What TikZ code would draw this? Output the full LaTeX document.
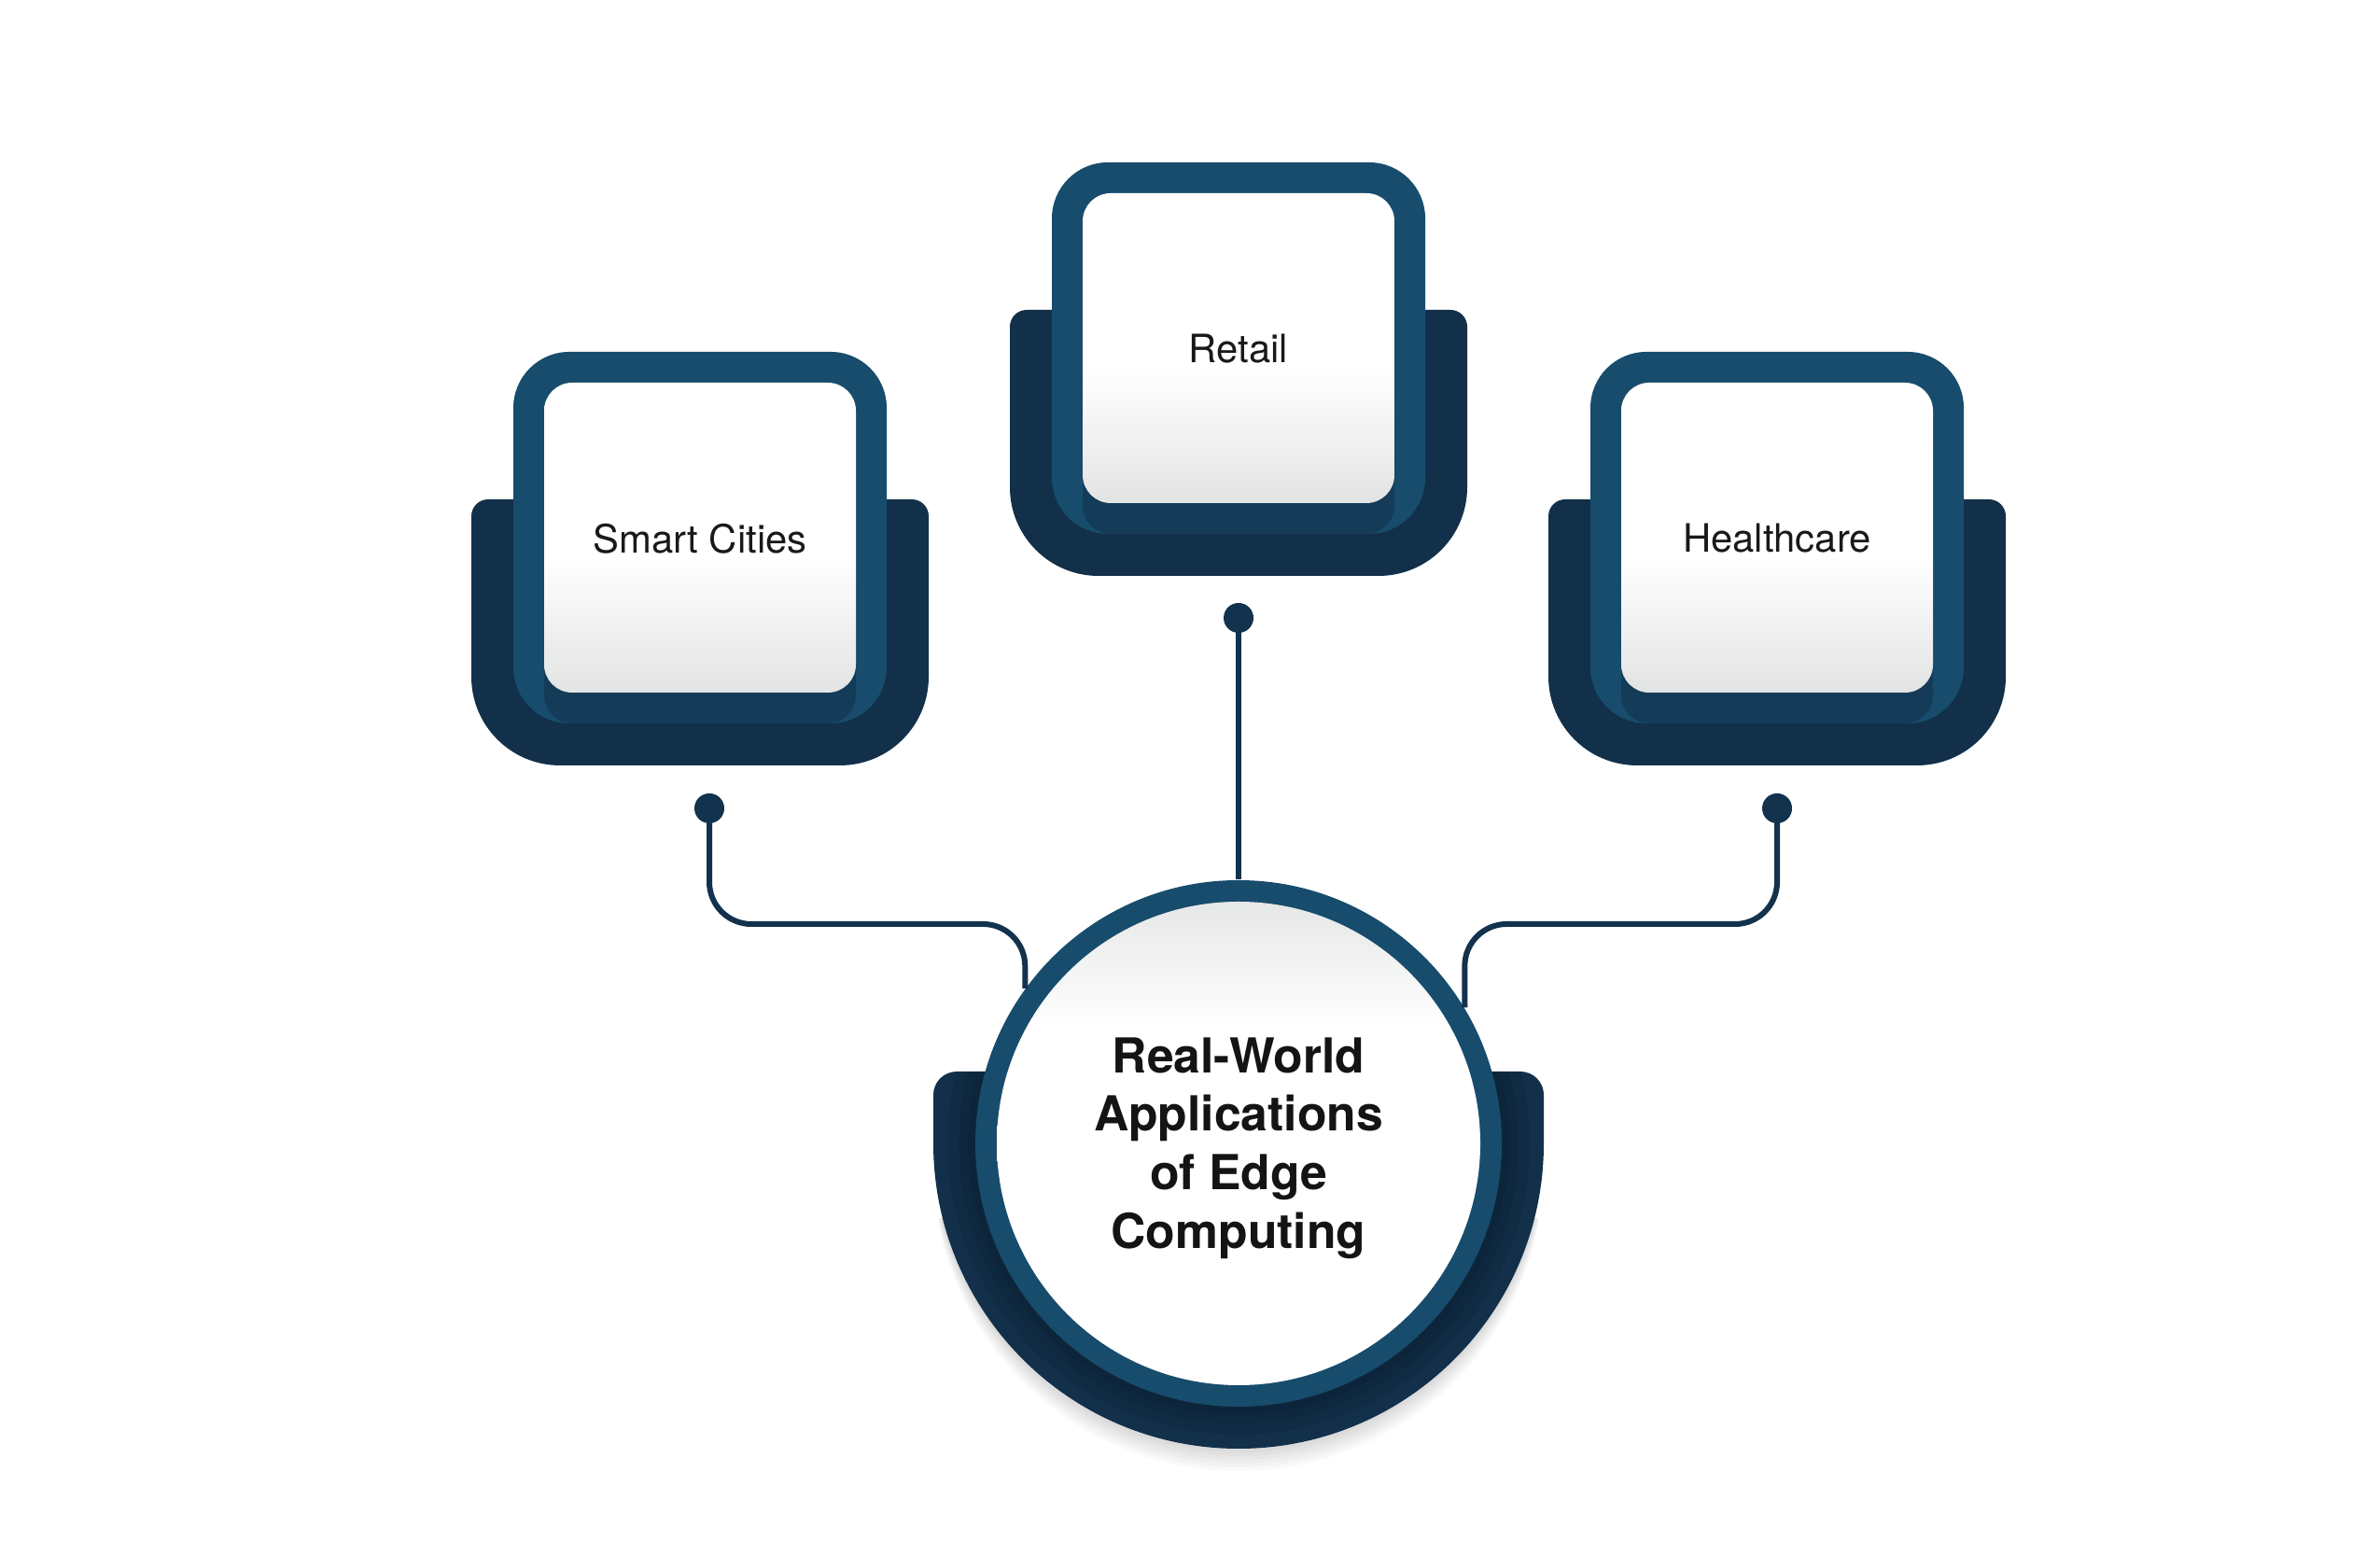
\documentclass[tikz,border=0pt]{standalone}
\usepackage{fontspec}
\setmainfont{TeX Gyre Heros}
\usetikzlibrary{calc}
\definecolor{frameblue}{HTML}{174C6C}
\definecolor{navy}{HTML}{12304A}
\definecolor{wirec}{HTML}{12324D}
\definecolor{paleg}{HTML}{E2E3E3}
\definecolor{midg}{HTML}{F3F3F3}
\definecolor{topg}{HTML}{E6E7E7}
\pgfdeclareverticalshading{cardfill}{100bp}{color(0bp)=(paleg); color(25bp)=(paleg); color(37bp)=(midg); color(47bp)=(white); color(100bp)=(white)}
\pgfdeclareverticalshading{discfill}{100bp}{color(0bp)=(white); color(45bp)=(white); color(62bp)=(white); color(75bp)=(topg); color(100bp)=(topg)}

\tikzset{
  backshape/.style={fill=navy},
  frameshape/.style={fill=frameblue, rounded corners=0.6cm},
  cardshape/.style={rounded corners=0.3cm, shading=cardfill},
  cardlabel/.style={font=\fontsize{11.9}{14}\selectfont, text=black!90, inner sep=0pt},
  hublabel/.style={font=\bfseries\fontsize{14.7}{17.8}\selectfont, align=center, text=black!92, inner sep=0pt},
  wire/.style={draw=wirec, line width=0.06cm},
  pin/.style={circle, fill=wirec, minimum size=0.32cm, inner sep=0pt},
  ringnode/.style={circle, fill=frameblue, minimum size=5.64cm, inner sep=0pt},
}

\newcommand\appcard[4]{%
 \begin{scope}[shift={(#2,#3)}]
  \fill[backshape] (-2.45,-1.76) arc[start angle=180,end angle=90,radius=0.18]
     -- (2.27,-1.58) arc[start angle=90,end angle=0,radius=0.18]
     -- (2.45,-3.48) arc[start angle=0,end angle=-90,radius=0.95]
     -- (-1.50,-4.43) arc[start angle=270,end angle=180,radius=0.95] -- cycle;
  \fill[frameshape] (-2,0) rectangle (2,-3.98);
  \begin{scope}
    \clip[rounded corners=0.6cm] (-2,0) rectangle (2,-3.98);
    \fill[navy, opacity=0.55, rounded corners=0.3cm] (-1.67,-0.66) rectangle (1.67,-3.98);
  \end{scope}
  \shade[cardshape] (-1.67,-0.33) rectangle (1.67,-3.65);
  \node[cardlabel] (#1) at (0,-2.0) {#4};
 \end{scope}}

\begin{document}
\begin{tikzpicture}
\useasboundingbox (0,0) rectangle (25.5,16.66);
\fill[white] (0,0) rectangle (25.5,16.66);

% cards
\appcard{smart}{7.50}{12.89}{Smart Cities}
\appcard{retail}{13.27}{14.92}{Retail}
\appcard{health}{19.04}{12.89}{Healthcare}

% hub shadow (below only)
\begin{scope}
  \clip (9.5,0) rectangle (17.0,3.6);
  \foreach \i in {1,...,6}
    \fill[black, opacity=0.022] (13.27,{4.41-0.04*\i}) circle[radius=3.27];
\end{scope}

% hub back shape
\fill[navy] (10.00,4.41) -- (10.00,4.93) arc[start angle=180,end angle=90,radius=0.25]
  -- (16.29,5.18) arc[start angle=90,end angle=0,radius=0.25]
  -- (16.54,4.41) arc[start angle=0,end angle=-180,radius=3.27] -- cycle;
\begin{scope}
  \clip (10.00,4.41) -- (10.00,5.18) -- (16.54,5.18) -- (16.54,4.41) arc[start angle=0,end angle=-180,radius=3.27] -- cycle;
  \fill[black, opacity=0.07] (13.27,4.41) circle[radius=3.12];
  \fill[black, opacity=0.07] (13.27,4.41) circle[radius=3.0];
  \fill[black, opacity=0.07] (13.27,4.41) circle[radius=2.9];
\end{scope}

% hub ring and disc
\node[ringnode] (hub) at (13.27,4.41) {};
\shade[shading=discfill] (hub.center) circle[radius=2.59];
\node[hublabel] (hubtext) at (13.27,4.36) {Real-World\\Applications\\of Edge\\Computing};

% connectors
\node[pin] (rpin) at (13.27,10.04) {};
\node[pin] (spin) at (7.60,8.00) {};
\node[pin] (hpin) at (19.04,8.00) {};
\coordinate (sjoint) at (7.60,6.76);
\coordinate (hjoint) at (19.04,6.76);
\draw[wire] (rpin.center) -- (hub.north);
\draw[wire, rounded corners=0.45cm] (spin.center) -- (sjoint) -- (hub.144.3 |- sjoint) -- (hub.144.3);
\draw[wire, rounded corners=0.45cm] (hpin.center) -- (hjoint) -- (hub.31.7 |- hjoint) -- (hub.31.7);
\end{tikzpicture}
\end{document}
